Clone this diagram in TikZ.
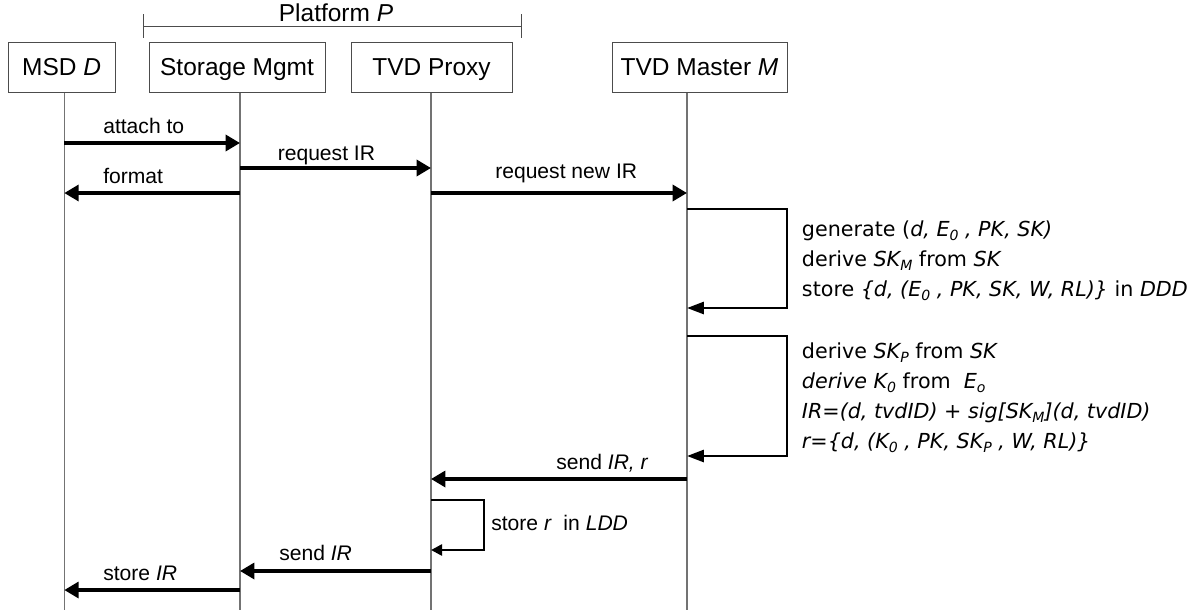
\documentclass[tikz,border=0pt]{standalone}
\usepackage{fontspec}
\setmainfont{Liberation Sans}
\newfontfamily\dejavu{DejaVu Sans}
\usetikzlibrary{arrows.meta, calc, positioning}
\newcommand{\lowidx}[1]{\raisebox{-3pt}{\fontsize{10}{10}\selectfont\itshape #1}}
\tikzset{
	lane/.style={draw=black!70, line width=0.6pt, inner sep=0, minimum height=1.25cm, text height=13.4pt, text depth=3pt, font=\fontsize{17.4}{20}\selectfont},
	life/.style={draw=black!55, line width=0.8pt},
	brace/.style={draw=black!70, line width=0.6pt},
	msg/.style={line width=2.4pt, -{Triangle[length=0.36cm, width=0.4cm]}},
	selfmsg/.style={line width=1.8pt, -{Triangle[length=0.42cm, width=0.3cm]}},
	lbl/.style={anchor=base west, inner sep=0, font=\fontsize{15}{18}\selectfont},
	memo/.style={anchor=base west, inner sep=0, align=left, font=\dejavu\fontsize{14.7}{21.3}\selectfont},
}

\begin{document}
\begin{tikzpicture}[x=0.025cm, y=-0.025cm]
	\useasboundingbox (0,0) rectangle (1200,613);
	\node[lane, minimum width=2.67cm] (msd) at (61.6,67.7) {MSD \textit{D}};
	\node[lane, minimum width=4.4cm] (stor) at (237,67.7) {Storage Mgmt};
	\node[lane, minimum width=4.025cm] (proxy) at (431.5,67.7) {TVD Proxy};
	\node[lane, minimum width=4.375cm] (master) at (699.5,67.7) {TVD Master \textit{M}};
	\coordinate (pl) at (143.3,26.7);
	\coordinate (pr) at (521.7,26.7);
	\draw[brace] (pl) -- (pr) (pl) ++(0,-12.5) -- ++(0,24) (pr) ++(0,-12.5) -- ++(0,24);
	\node[lbl, anchor=base, font=\fontsize{17.4}{20}\selectfont] (plat) at (336,21) {Platform \textit{P}};
	\foreach \n/\x in {msd/64.3, stor/240, proxy/431, master/687}
		{\coordinate (\n-end) at (\x,610);
		\draw[life] (\n-end |- \n.south) -- (\n-end);}
	\foreach \r/\y in {attach/143, req/168, fmt/193, gen/209, gend/308, der/336, derd/456, send/479, keep/500, keepd/550, back/571, done/590}
		\coordinate (\r) at (0,\y);
	\draw[msg] (msd-end |- attach) -- (stor-end |- attach);
	\draw[msg] (stor-end |- req) -- (proxy-end |- req);
	\draw[msg] (stor-end |- fmt) -- (msd-end |- fmt);
	\draw[msg] (proxy-end |- fmt) -- (master-end |- fmt);
	\draw[selfmsg] (master-end |- gen) -- ++(100,0) |- (master-end |- gend);
	\draw[selfmsg] (master-end |- der) -- ++(100,0) |- (master-end |- derd);
	\draw[msg] (master-end |- send) -- (proxy-end |- send);
	\draw[selfmsg, -{Triangle[length=0.28cm, width=0.28cm]}] (proxy-end |- keep) -- ++(53,0) |- (proxy-end |- keepd);
	\draw[msg] (proxy-end |- back) -- (stor-end |- back);
	\draw[msg] (stor-end |- done) -- (msd-end |- done);
	\node[lbl] (l-attach) at (103,133) {attach to};
	\node[lbl] (l-req) at (277.5,160) {request IR};
	\node[lbl] (l-fmt) at (103,183) {format};
	\node[lbl] (l-new) at (495,178) {request new IR};
	\node[lbl] (l-send) at (556,469) {send \textit{IR, r}};
	\node[lbl] (l-keep) at (491,530) {store \textit{r}\ \ in \textit{LDD}};
	\node[lbl] (l-back) at (279,560) {send \textit{IR}};
	\node[lbl] (l-done) at (103,580) {store \textit{IR}};
	\node[memo] (m-gen) at (801.7,296) {generate (\textit{d, E\lowidx{0} , PK, SK)}\\
		derive \textit{SK\lowidx{M}} from \textit{SK}\\
		store \textit{\{d, (E\lowidx{0} , PK, SK, W, RL)\}} in \textit{DDD}};
	\node[memo] (m-der) at (801.7,448) {derive \textit{SK\lowidx{P}} from \textit{SK}\\
		\textit{derive K\lowidx{0}} from \ \textit{E\lowidx{o}}\\
		\textit{IR=(d, tvdID) {\upshape +} sig[SK\lowidx{M}](d, tvdID)}\\
		\textit{r=\{d, (K\lowidx{0} , PK, SK\lowidx{P} , W, RL)\}}};
\end{tikzpicture}
\end{document}
